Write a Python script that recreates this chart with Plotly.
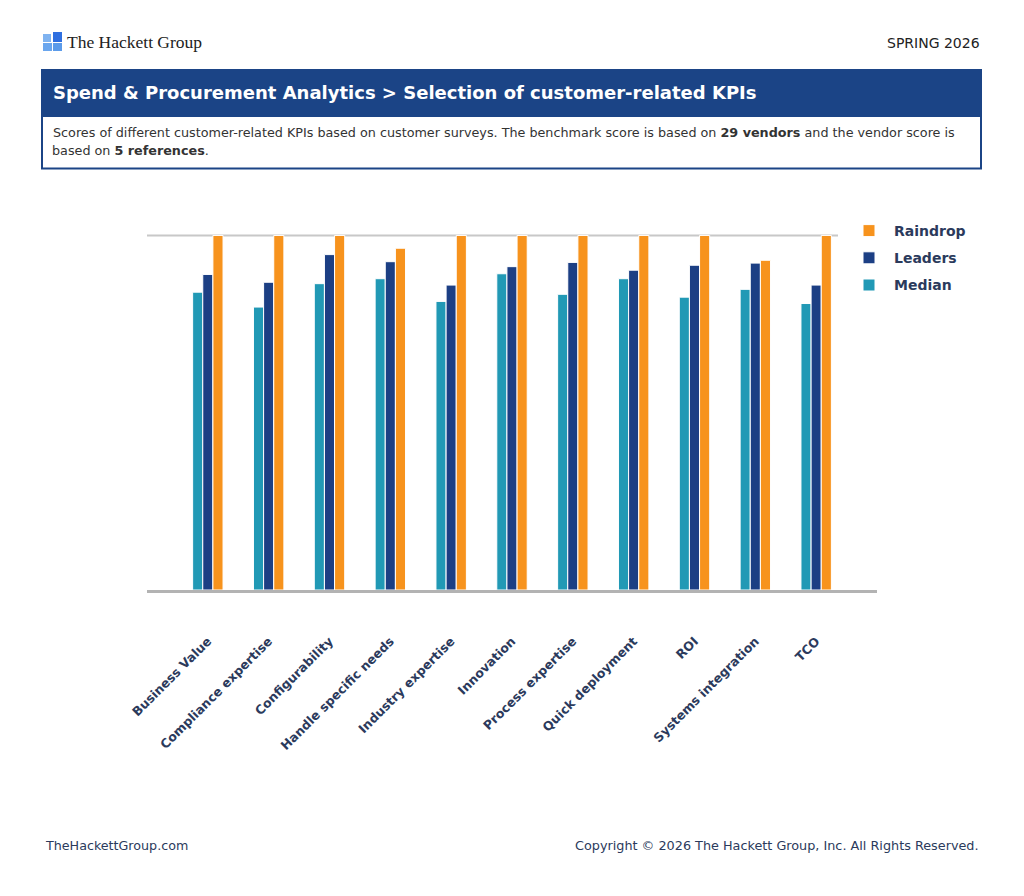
import plotly.graph_objects as go

categories = ["Business Value", "Compliance expertise", "Configurability", "Handle specific needs",
              "Industry expertise", "Innovation", "Process expertise", "Quick deployment", "ROI",
              "Systems integration", "TCO"]
median = [4.20, 3.99, 4.32, 4.39, 4.07, 4.46, 4.17, 4.39, 4.13, 4.24, 4.04]
leaders = [4.45, 4.34, 4.73, 4.63, 4.30, 4.56, 4.62, 4.51, 4.58, 4.61, 4.30]
raindrop = [5.00, 5.00, 5.00, 4.82, 5.00, 5.00, 5.00, 5.00, 5.00, 4.65, 5.00]
max_score = 5

W, H = 1024, 896
OFF = 8  # page body margin
L, R, T, B = 147, 877, 200, 590

def px(x):
    return (x - L) / (R - L)

def py(y):
    return (B - y) / (B - T)

C_MED = "#2199b5"
C_LEAD = "#1c3f84"
C_RAIN = "#f7931d"
NAVY = "#1b4486"
TXT = "#2b3a5c"

fig = go.Figure()
for rank, (name, vals, col) in zip([3, 2, 1], [("Median", median, C_MED), ("Leaders", leaders, C_LEAD),
                                              ("Raindrop", raindrop, C_RAIN)]):
    fig.add_trace(go.Bar(x=list(range(len(categories))), y=vals, name=name, legendgroup=name,
                         legendrank=rank,
                         marker=dict(color=col, line=dict(color="white", width=1))))

shapes = []
shapes.append(dict(type="line", xref="paper", yref="y", x0=0, x1=px(838), y0=max_score, y1=max_score,
                   line=dict(color="#c8c8c8", width=2), layer="below"))
shapes.append(dict(type="rect", xref="paper", yref="paper", x0=px(41), x1=px(982), y0=py(116), y1=py(69),
                   fillcolor=NAVY, line=dict(width=0)))
shapes.append(dict(type="rect", xref="paper", yref="paper", x0=px(42), x1=px(981), y0=py(168.5), y1=py(116),
                   fillcolor="white", line=dict(color=NAVY, width=2)))
for (x0, y0, x1, y1, c) in [(43, 34, 51, 42, "#7fb3f0"), (53, 32, 62, 42, "#2f6fe0"),
                            (43, 43, 52, 51, "#6aa6ee"), (53, 43, 62, 51, "#5b9bea")]:
    shapes.append(dict(type="rect", xref="paper", yref="paper", x0=px(x0), x1=px(x1), y0=py(y1), y1=py(y0),
                       fillcolor=c, line=dict(width=0)))

ann = []
def a(x, y, text, size, color, anchor="left", family="DejaVu Sans"):
    x = x - 2.5 if anchor == "left" else x + 2.5
    ann.append(dict(xref="paper", yref="paper", x=px(x), y=py(y), text=text, showarrow=False,
                    xanchor=anchor, yanchor="middle", align=anchor,
                    font=dict(size=size, color=color, family=family)))

a(67, 42, "The Hackett Group", 17.5, "#222222", family="Liberation Serif")
a(979, 43, "SPRING 2026", 14, "#222222", anchor="right")
a(53, 92, "<b>Spend &amp; Procurement Analytics &gt; Selection of customer-related KPIs</b>", 18, "white")
a(53, 133, "Scores of different customer-related KPIs based on customer surveys. The benchmark score is based on <b>29 vendors</b> and the vendor score is", 12.75, "#333333")
a(53, 150, "based on <b>5 references</b>.", 12.75, "#333333")
a(45, 845, "TheHackettGroup.com", 12.7, TXT)
a(978, 845, "Copyright © 2026 The Hackett Group, Inc. All Rights Reserved.", 12.8, TXT, anchor="right")

fig.update_layout(
    width=W, height=H,
    margin=dict(l=L - OFF, r=W - R + OFF, t=T - OFF, b=H - B + OFF, pad=0),
    paper_bgcolor="white", plot_bgcolor="white",
    barmode="group", bargap=0.5, bargroupgap=0,
    showlegend=True,
    legend=dict(x=px(844), y=py(215), xanchor="left", yanchor="top", traceorder="grouped",
                font=dict(size=14, color=TXT, family="DejaVu Sans", weight="bold"), itemwidth=40,
                bgcolor="rgba(0,0,0,0)", tracegroupgap=6),
    xaxis=dict(range=[-1, 11], tickmode="array", tickvals=list(range(len(categories))),
               ticktext=[f"<b>{c}</b>" for c in categories], tickangle=-45,
               tickfont=dict(size=12.5, color=TXT, family="DejaVu Sans"),
               showline=True, linecolor="#b3b3b3", linewidth=3, showgrid=False, zeroline=False,
               ticks="", ticklabelstandoff=36, fixedrange=True),
    yaxis=dict(range=[0, 5.5], showgrid=False, zeroline=False, showticklabels=False, showline=False,
               fixedrange=True),
    shapes=shapes, annotations=ann,
    font=dict(family="DejaVu Sans"),
)

fig.write_html("out.html")
